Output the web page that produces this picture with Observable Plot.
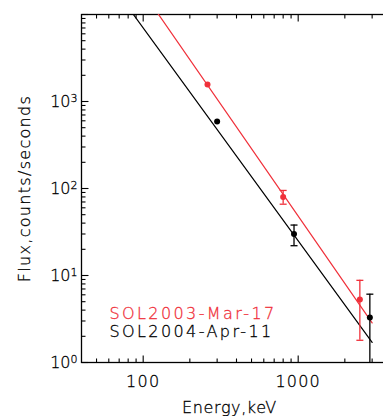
<!DOCTYPE html>
<html>
<head>
<meta charset="utf-8">
<script src="https://cdn.jsdelivr.net/npm/d3@7"></script>
<script src="https://cdn.jsdelivr.net/npm/@observablehq/plot@0.6"></script>
<style>
  html, body { margin: 0; padding: 0; background: white; overflow: hidden; }
  svg { overflow: hidden; }
</style>
</head>
<body>
<div id="chart"></div>
<script>
// ---- data ----
const seriesNames = ["SOL2003-Mar-17", "SOL2004-Apr-11"];
const seriesColors = ["#f0303a", "#000000"];

const marE  = [260, 800, 2500];
const marF  = [1570, 80, 5.3];
const marLo = [null, 66, 1.8];
const marHi = [null, 95, 8.8];

const aprE  = [300, 940, 2900];
const aprF  = [590, 30, 3.3];
const aprLo = [null, 22, 0.5];
const aprHi = [null, 38, 6.1];

const fitE    = [80, 3000];
const marFitF = [32000, 2.85];
const aprFitF = [12100, 1.70];

const xTitle = "Energy,keV";
const yTitle = "Flux,counts/seconds";
const xMajor = [100, 1000];
const xMinor = [50, 60, 70, 80, 90, 200, 300, 400, 500, 600, 700, 800, 900, 2000, 3000, 4000];
const yMajor = [1, 10, 100, 1000, 10000];
const yLabelTicks = [1, 10, 100, 1000];
const yMinorMantissas = [2, 3, 4, 5, 6, 7, 8, 9];
const yDecades = [1, 10, 100, 1000];

// ---- tables ----
const yMinor = yDecades.flatMap(dec => yMinorMantissas.map(m => dec * m));
const points = [
  ...marE.map((e, i) => ({s: seriesNames[0], e, f: marF[i], lo: marLo[i], hi: marHi[i]})),
  ...aprE.map((e, i) => ({s: seriesNames[1], e, f: aprF[i], lo: aprLo[i], hi: aprHi[i]}))
];
const errs = points.filter(d => d.lo != null);
const fits = [
  ...fitE.map((e, i) => ({s: seriesNames[0], e, f: marFitF[i]})),
  ...fitE.map((e, i) => ({s: seriesNames[1], e, f: aprFitF[i]}))
];

const FONT = "DejaVu Sans";
const vtick = (len) => ({draw(ctx) { ctx.moveTo(0, 0); ctx.lineTo(0, len); }});
const htick = (len) => ({draw(ctx) { ctx.moveTo(0, 0); ctx.lineTo(len, 0); }});
const cap = {draw(ctx) { ctx.moveTo(-3.5, 0); ctx.lineTo(3.5, 0); }};

const plot = Plot.plot({
  width: 383,
  height: 416,
  marginLeft: 81,
  marginRight: -8,
  marginTop: 14,
  marginBottom: 54,
  style: {fontFamily: FONT, fontSize: "16px", fontWeight: 200, background: "white", color: "black"},
  x: {type: "log", domain: [40, 4000], axis: null},
  y: {type: "log", domain: [1, 10000], axis: null},
  color: {domain: seriesNames, range: seriesColors},
  marks: [
    Plot.frame({stroke: "black", strokeWidth: 1.3}),
    // fit lines
    Plot.line(fits, {x: "e", y: "f", z: "s", stroke: "s", strokeWidth: 1.2, clip: true}),
    // error bars
    Plot.ruleX(errs, {x: "e", y1: "lo", y2: "hi", stroke: "s", strokeWidth: 1.3, clip: true}),
    Plot.dot(errs.filter(d => d.lo >= 1), {x: "e", y: "lo", symbol: cap, stroke: "s", strokeWidth: 1.3, fill: null}),
    Plot.dot(errs, {x: "e", y: "hi", symbol: cap, stroke: "s", strokeWidth: 1.3, fill: null}),
    // points
    Plot.dot(points, {x: "e", y: "f", fill: "s", r: 3}),
    // x ticks (inward) bottom & top
    Plot.dot(xMajor, {x: d => d, frameAnchor: "bottom", symbol: vtick(-7), stroke: "black", strokeWidth: 1.1, fill: null}),
    Plot.dot(xMinor, {x: d => d, frameAnchor: "bottom", symbol: vtick(-4), stroke: "black", strokeWidth: 1.1, fill: null}),
    Plot.dot(xMajor, {x: d => d, frameAnchor: "top", symbol: vtick(7), stroke: "black", strokeWidth: 1.1, fill: null}),
    Plot.dot(xMinor, {x: d => d, frameAnchor: "top", symbol: vtick(4), stroke: "black", strokeWidth: 1.1, fill: null}),
    // y ticks (inward) left
    Plot.dot(yMajor, {y: d => d, frameAnchor: "left", symbol: htick(7), stroke: "black", strokeWidth: 1.1, fill: null}),
    Plot.dot(yMinor, {y: d => d, frameAnchor: "left", symbol: htick(4), stroke: "black", strokeWidth: 1.1, fill: null}),
    // tick labels
    Plot.axisX({ticks: xMajor, tickSize: 0, tickPadding: 13, tickFormat: d => String(d), fontSize: 16, fontFamily: FONT, label: null}),
    Plot.axisY({ticks: yLabelTicks, tickSize: 0, tickPadding: 4, tickFormat: d => "10|" + Math.round(Math.log10(d)), fontSize: 16, fontFamily: FONT, label: null}),
    // axis titles
    Plot.text([xTitle], {frameAnchor: "bottom", dy: 45, dx: -7, text: d => d, fontSize: 16, fill: "black", textAnchor: "middle", lineAnchor: "middle"}),
    Plot.text([yTitle], {frameAnchor: "left", dx: -57, text: d => d, rotate: -90, fontSize: 16, fill: "black", textAnchor: "middle", lineAnchor: "middle"}),
    // legend
    Plot.text([seriesNames[0]], {frameAnchor: "bottom-left", dx: 28, dy: -49, text: d => d, fill: seriesColors[0], textAnchor: "start", lineAnchor: "middle", fontSize: 16}),
    Plot.text([seriesNames[1]], {frameAnchor: "bottom-left", dx: 28, dy: -31, text: d => d, fill: seriesColors[1], textAnchor: "start", lineAnchor: "middle", fontSize: 16})
  ]
});

// superscript exponents on y tick labels; letter spacing like the IDL font
d3.select(plot).selectAll("text").each(function() {
  const sel = d3.select(this);
  const t = this.textContent;
  const strokeCol = t === seriesNames[0] ? seriesColors[0] : "black";
  sel.attr("stroke", strokeCol).attr("stroke-width", 0.3);
  if (/^10\|\d$/.test(t)) {
    const [base, exp] = t.split("|");
    sel.text(base);
    sel.append("tspan").attr("dy", "-0.45em").attr("font-size", "11px").text(exp);
  } else if (t === yTitle) {
    sel.attr("letter-spacing", "1.3px");
  } else if (t === xTitle) {
    sel.attr("letter-spacing", "0.6px");
  } else if (seriesNames.includes(t)) {
    sel.attr("letter-spacing", "2.4px");
  } else if (t === "100" || t === "1000") {
    sel.attr("letter-spacing", "1.2px");
  }
});

document.getElementById("chart").appendChild(plot);
</script>
</body>
</html>
